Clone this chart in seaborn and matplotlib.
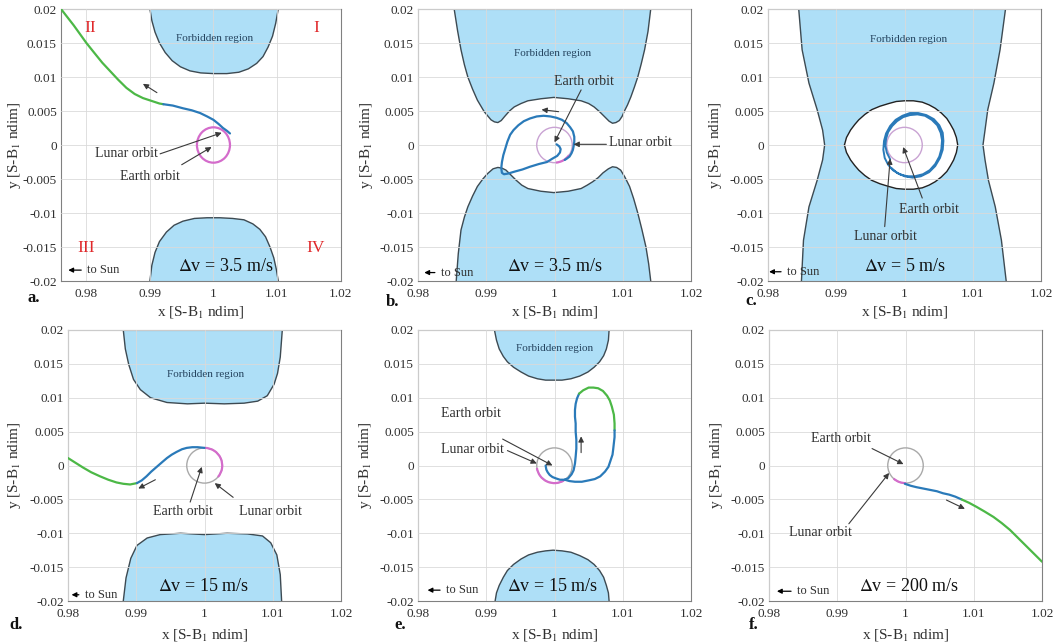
import matplotlib
matplotlib.use('Agg')
import matplotlib.pyplot as plt
from matplotlib.patches import Circle, Arc
import seaborn as sns

# ---- axes / ticks ----
XTICKS = [0.98, 0.99, 1.0, 1.01, 1.02]
XTICK_LABELS = ['0.98', '0.99', '1', '1.01', '1.02']
YTICKS = [-0.02, -0.015, -0.01, -0.005, 0.0, 0.005, 0.01, 0.015, 0.02]
YTICK_LABELS = ['-0.02', '-0.015', '-0.01', '-0.005', '0', '0.005', '0.01', '0.015', '0.02']
LUNAR_R = 0.0026

# ---- panel a (dv = 3.5 m/s) ----
A_TOP_X = [0.9900, 0.9903, 0.9908, 0.9915, 0.9924, 0.9935, 0.9948, 0.9963, 0.9980, 1.0000, 1.0021,
           1.0040, 1.0055, 1.0068, 1.0078, 1.0086, 1.0093, 1.0098, 1.0102]
A_TOP_Y = [0.0200, 0.0183, 0.0166, 0.0150, 0.0136, 0.0124, 0.0115, 0.0109, 0.0106, 0.0105, 0.0105,
           0.0107, 0.0112, 0.0120, 0.0130, 0.0144, 0.0160, 0.0179, 0.0200]
A_BOT_X = [0.9900, 0.9903, 0.9908, 0.9915, 0.9926, 0.9938, 0.9952, 0.9970, 0.9990, 1.0010, 1.0030,
           1.0048, 1.0062, 1.0073, 1.0082, 1.0089, 1.0095, 1.0099, 1.0102]
A_BOT_Y = [-0.0200, -0.0177, -0.0158, -0.0142, -0.0128, -0.0118, -0.0112, -0.0108, -0.0107, -0.0107, -0.0108,
           -0.0110, -0.0116, -0.0124, -0.0135, -0.0150, -0.0166, -0.0183, -0.0200]
A_GREEN_X = [0.9760, 0.9770, 0.9780, 0.9790, 0.9800, 0.9812, 0.9825, 0.9838, 0.9850, 0.9863, 0.9876,
             0.9889, 0.9902, 0.9915, 0.9921]
A_GREEN_Y = [0.0200, 0.0188, 0.0176, 0.0163, 0.0150, 0.0136, 0.0121, 0.0108, 0.0096, 0.0084, 0.0075,
             0.0069, 0.0065, 0.0061, 0.0060]
A_BLUE_X = [0.9921, 0.9936, 0.9952, 0.9966, 0.9979, 0.9990, 1.0000, 1.0008, 1.0015, 1.0021, 1.0026]
A_BLUE_Y = [0.0060, 0.0058, 0.0054, 0.0051, 0.0047, 0.0042, 0.0037, 0.0031, 0.0025, 0.0021, 0.0017]

# ---- panel b (dv = 3.5 m/s) ----
B_TOP_X = [0.9853, 0.9858, 0.9863, 0.9868, 0.9873, 0.9880, 0.9887, 0.9897, 0.9907, 0.9912, 0.9917, 0.9922,
           0.9927, 0.9934, 0.9941, 0.9951, 0.9961, 0.9980, 0.9999, 1.0020, 1.0039, 1.0050, 1.0058, 1.0066,
           1.0073, 1.0080, 1.0085, 1.0090, 1.0095, 1.0099, 1.0102, 1.0107, 1.0112, 1.0117, 1.0122, 1.0127,
           1.0132, 1.0137, 1.0141]
B_TOP_Y = [0.0200, 0.0168, 0.0140, 0.0118, 0.0100, 0.0082, 0.0066, 0.0049, 0.0037, 0.0034, 0.0033, 0.0036,
           0.0042, 0.0050, 0.0056, 0.0061, 0.0065, 0.0068, 0.0070, 0.0068, 0.0065, 0.0061, 0.0056, 0.0049,
           0.0042, 0.0035, 0.0032, 0.0033, 0.0036, 0.0042, 0.0049, 0.0059, 0.0071, 0.0085, 0.0100, 0.0119,
           0.0140, 0.0167, 0.0200]
B_BOT_X = [0.9856, 0.9859, 0.9863, 0.9868, 0.9873, 0.9880, 0.9887, 0.9895, 0.9902, 0.9910, 0.9917, 0.9923,
           0.9929, 0.9936, 0.9944, 0.9952, 0.9961, 0.9980, 0.9999, 1.0020, 1.0039, 1.0048, 1.0056, 1.0064,
           1.0071, 1.0079, 1.0085, 1.0091, 1.0097, 1.0103, 1.0110, 1.0116, 1.0122, 1.0128, 1.0134, 1.0138,
           1.0141]
B_BOT_Y = [-0.0200, -0.0160, -0.0125, -0.0106, -0.0091, -0.0075, -0.0061, -0.0050, -0.0042, -0.0035, -0.0033,
           -0.0034, -0.0037, -0.0044, -0.0052, -0.0059, -0.0064, -0.0068, -0.0070, -0.0068, -0.0064, -0.0059,
           -0.0054, -0.0048, -0.0041, -0.0035, -0.0032, -0.0033, -0.0037, -0.0047, -0.0061, -0.0079, -0.0100,
           -0.0124, -0.0150, -0.0175, -0.0200]
B_BLUE_X = [1.0003, 1.0007, 1.0009, 1.0008, 1.0004, 0.9997, 0.9989, 0.9977, 0.9964, 0.9953, 0.9942, 0.9932,
            0.9926, 0.9923, 0.9922, 0.9923, 0.9925, 0.9928, 0.9931, 0.9935, 0.9940, 0.9947, 0.9955, 0.9964,
            0.9974, 0.9984, 0.9994, 1.0003, 1.0011, 1.0018, 1.0023, 1.0027, 1.0029, 1.0029, 1.0028, 1.0027,
            1.0025, 1.0022, 1.0018, 1.0015]
B_BLUE_Y = [0.0001, -0.0002, -0.0006, -0.0011, -0.0016, -0.0020, -0.0025, -0.0028, -0.0032, -0.0036, -0.0039,
            -0.0042, -0.0043, -0.0041, -0.0034, -0.0025, -0.0015, -0.0005, 0.0005, 0.0015, 0.0022, 0.0029,
            0.0035, 0.0039, 0.0042, 0.0043, 0.0042, 0.0040, 0.0037, 0.0032, 0.0026, 0.0020, 0.0012, 0.0005,
            -0.0002, -0.0007, -0.0012, -0.0017, -0.0020, -0.0022]

# ---- panel c (dv = 5 m/s) ----
C_LEFT_X = [0.9845, 0.9850, 0.9860, 0.9872, 0.9880, 0.9883, 0.9880, 0.9872, 0.9860, 0.9852, 0.9849]
C_LEFT_Y = [0.0200, 0.0140, 0.0091, 0.0052, 0.0022, 0.0000, -0.0022, -0.0052, -0.0091, -0.0140, -0.0200]
C_RIGHT_X = [1.0148, 1.0140, 1.0131, 1.0122, 1.0118, 1.0115, 1.0118, 1.0123, 1.0133, 1.0142, 1.0149]
C_RIGHT_Y = [0.0200, 0.0140, 0.0091, 0.0052, 0.0022, 0.0000, -0.0022, -0.0052, -0.0091, -0.0140, -0.0200]
C_OVAL_X = [0.9912, 0.9915, 0.9921, 0.9927, 0.9933, 0.9942, 0.9952, 0.9964, 0.9977, 0.9988, 1.0000, 1.0013,
            1.0026, 1.0036, 1.0045, 1.0054, 1.0062, 1.0067, 1.0072, 1.0076, 1.0078,
            1.0076, 1.0072, 1.0067, 1.0062, 1.0054, 1.0045, 1.0036, 1.0026, 1.0013, 1.0000, 0.9988,
            0.9977, 0.9964, 0.9952, 0.9942, 0.9933, 0.9927, 0.9921, 0.9915, 0.9912]
C_OVAL_Y = [0.0000, 0.0011, 0.0022, 0.0030, 0.0037, 0.0045, 0.0052, 0.0057, 0.0061, 0.0064, 0.0065, 0.0065,
            0.0063, 0.0059, 0.0054, 0.0047, 0.0039, 0.0031, 0.0022, 0.0011, 0.0000,
            -0.0011, -0.0022, -0.0031, -0.0039, -0.0047, -0.0054, -0.0059, -0.0063, -0.0065, -0.0065, -0.0064,
            -0.0061, -0.0057, -0.0052, -0.0045, -0.0037, -0.0030, -0.0022, -0.0011, 0.0000]
C_BLUE_X = [0.9979, 0.9974, 0.9972, 0.9973, 0.9976, 0.9982, 0.9989, 0.9998, 1.0008, 1.0019, 1.0030, 1.0040,
            1.0048, 1.0053, 1.0055, 1.0054, 1.0051, 1.0045, 1.0037, 1.0027, 1.0015, 1.0004, 0.9993, 0.9983,
            0.9976, 0.9971, 0.9969, 0.9970, 0.9973, 0.9979, 0.9987, 0.9997, 1.0008, 1.0020, 1.0032, 1.0043,
            1.0051, 1.0056, 1.0057, 1.0056, 1.0052, 1.0045, 1.0036, 1.0024, 1.0012, 1.0000, 0.9989, 0.9981]
C_BLUE_Y = [-0.0021, -0.0011, -0.0001, 0.0009, 0.0019, 0.0028, 0.0035, 0.0041, 0.0044, 0.0045, 0.0043, 0.0037,
            0.0029, 0.0018, 0.0007, -0.0006, -0.0017, -0.0028, -0.0037, -0.0043, -0.0046, -0.0046, -0.0043,
            -0.0037, -0.0029, -0.0019, -0.0007, 0.0006, 0.0017, 0.0028, 0.0037, 0.0043, 0.0047, 0.0047,
            0.0044, 0.0038, 0.0029, 0.0018, 0.0006, -0.0007, -0.0019, -0.0031, -0.0040, -0.0046, -0.0048,
            -0.0046, -0.0041, -0.0034]

# ---- panel d (dv = 15 m/s) ----
D_TOP_X = [0.9881, 0.9884, 0.9889, 0.9896, 0.9906, 0.9921, 0.9945, 0.9975, 1.0000, 1.0029, 1.0058, 1.0078,
           1.0092, 1.0102, 1.0107, 1.0111, 1.0114]
D_TOP_Y = [0.0200, 0.0172, 0.0149, 0.0127, 0.0112, 0.0100, 0.0093, 0.0091, 0.0092, 0.0091, 0.0092, 0.0095,
           0.0103, 0.0120, 0.0136, 0.0160, 0.0200]
D_BOT_X = [0.9881, 0.9885, 0.9892, 0.9901, 0.9916, 0.9935, 0.9965, 1.0000, 1.0033, 1.0063, 1.0085, 1.0097,
           1.0106, 1.0111, 1.0113]
D_BOT_Y = [-0.0200, -0.0166, -0.0137, -0.0118, -0.0107, -0.0102, -0.0100, -0.0102, -0.0100, -0.0101, -0.0104,
           -0.0114, -0.0132, -0.0161, -0.0200]
D_GREEN_X = [0.9800, 0.9811, 0.9822, 0.9834, 0.9847, 0.9859, 0.9871, 0.9881, 0.9891, 0.9901]
D_GREEN_Y = [0.0011, 0.0004, -0.0003, -0.0010, -0.0016, -0.0021, -0.0025, -0.0027, -0.0028, -0.0026]
D_BLUE_X = [0.9901, 0.9908, 0.9915, 0.9922, 0.9930, 0.9938, 0.9945, 0.9952, 0.9959, 0.9967, 0.9974, 0.9982,
            0.9990, 1.0000]
D_BLUE_Y = [-0.0026, -0.0022, -0.0016, -0.0009, -0.0002, 0.0005, 0.0011, 0.0016, 0.0020, 0.0024, 0.0026,
            0.0027, 0.0027, 0.0026]

# ---- panel e (dv = 15 m/s) ----
E_TOP_X = [0.9912, 0.9915, 0.9919, 0.9925, 0.9931, 0.9940, 0.9951, 0.9962, 0.9975, 0.9987, 0.9998, 1.0011,
           1.0024, 1.0037, 1.0049, 1.0058, 1.0066, 1.0072, 1.0076, 1.0079, 1.0080]
E_TOP_Y = [0.0200, 0.0185, 0.0172, 0.0161, 0.0153, 0.0145, 0.0138, 0.0132, 0.0128, 0.0126, 0.0126, 0.0126,
           0.0128, 0.0132, 0.0138, 0.0145, 0.0153, 0.0162, 0.0172, 0.0185, 0.0200]
E_BOT_X = [0.9913, 0.9915, 0.9919, 0.9925, 0.9931, 0.9940, 0.9951, 0.9962, 0.9975, 0.9987, 0.9998, 1.0011,
           1.0024, 1.0037, 1.0049, 1.0058, 1.0066, 1.0072, 1.0076, 1.0079, 1.0080]
E_BOT_Y = [-0.0200, -0.0188, -0.0177, -0.0165, -0.0155, -0.0146, -0.0138, -0.0132, -0.0128, -0.0126, -0.0125,
           -0.0126, -0.0128, -0.0133, -0.0139, -0.0146, -0.0155, -0.0165, -0.0177, -0.0188, -0.0200]
E_BLUE1_X = [0.9987, 0.9988, 0.9990, 0.9993, 0.9997, 1.0002, 1.0008, 1.0014, 1.0020, 1.0025, 1.0028, 1.0030,
             1.0031, 1.0032, 1.0032, 1.0031, 1.0031, 1.0030, 1.0030, 1.0031, 1.0033, 1.0036]
E_BLUE1_Y = [0.0000, -0.0006, -0.0010, -0.0014, -0.0017, -0.0019, -0.0021, -0.0021, -0.0019, -0.0013, -0.0007,
             0.0003, 0.0013, 0.0025, 0.0038, 0.0050, 0.0062, 0.0072, 0.0082, 0.0091, 0.0099, 0.0106]
E_GREEN_X = [1.0036, 1.0042, 1.0050, 1.0057, 1.0064, 1.0071, 1.0077, 1.0081, 1.0084, 1.0087, 1.0088, 1.0088]
E_GREEN_Y = [0.0106, 0.0111, 0.0115, 0.0115, 0.0114, 0.0110, 0.0103, 0.0096, 0.0087, 0.0075, 0.0062, 0.0052]
E_BLUE2_X = [1.0088, 1.0088, 1.0087, 1.0086, 1.0085, 1.0082, 1.0079, 1.0074, 1.0067, 1.0059, 1.0050, 1.0040,
             1.0030, 1.0022, 1.0015]
E_BLUE2_Y = [0.0052, 0.0042, 0.0033, 0.0024, 0.0016, 0.0007, -0.0002, -0.0009, -0.0016, -0.0020, -0.0022,
             -0.0024, -0.0024, -0.0023, -0.0021]

# ---- panel f (dv = 200 m/s) ----
F_BLUE_X = [0.9999, 1.0008, 1.0016, 1.0026, 1.0036, 1.0046, 1.0055, 1.0064, 1.0073, 1.0082]
F_BLUE_Y = [-0.0027, -0.0030, -0.0032, -0.0034, -0.0036, -0.0038, -0.0041, -0.0043, -0.0046, -0.0050]
F_GREEN_X = [1.0082, 1.0093, 1.0104, 1.0116, 1.0129, 1.0141, 1.0153, 1.0165, 1.0178, 1.0189, 1.0200]
F_GREEN_Y = [-0.0050, -0.0055, -0.0061, -0.0068, -0.0076, -0.0085, -0.0095, -0.0107, -0.0120, -0.0131, -0.0142]

# ---- colours ----
FILL = '#aedff7'
EDGE = '#3d4a52'
BLUE = '#2a7ab9'
GREEN = '#4cb846'
MAGENTA = '#d46ccb'
LIGHT_MAG = '#c9a3d3'
ORBIT = '#a9a9a9'
ARROW = '#3a3a3a'

sns.set_theme(style='whitegrid')
plt.rcParams['font.family'] = ['Liberation Serif', 'DejaVu Serif']
plt.rcParams['mathtext.fontset'] = 'stix'


def setup(ax, ylab_x, xlab_y, xmin=0.98):
    ax.set_xlim(xmin, 1.02)
    ax.set_ylim(-0.02, 0.02)
    ax.set_xticks(XTICKS)
    ax.set_xticklabels(XTICK_LABELS)
    ax.set_yticks(YTICKS)
    ax.set_yticklabels(YTICK_LABELS)
    ax.set_facecolor('white')
    ax.grid(True, color='#dadada', lw=0.6)
    ax.set_axisbelow(False)
    for s in ax.spines.values():
        s.set_color('#808080')
        s.set_linewidth(0.8)
    ax.tick_params(labelsize=9.5, colors='#303030', length=0)
    ax.tick_params(axis='x', pad=5)
    ax.tick_params(axis='y', pad=3)
    ax.set_xlabel('x [S-B$_1$ ndim]', fontsize=11, color='#303030')
    ax.set_ylabel('y [S-B$_1$ ndim]', fontsize=11, color='#303030')
    ax.yaxis.set_label_coords(ylab_x, 0.5)
    ax.xaxis.set_label_coords(0.5, xlab_y)


def forbidden(ax, xs, ys):
    ax.fill(xs, ys, color=FILL, lw=0, zorder=1)
    ax.plot(xs, ys, color=EDGE, lw=1.0, zorder=1.6)


def traj(ax, xs, ys, color, lw=1.6):
    sns.lineplot(x=xs, y=ys, sort=False, estimator=None, color=color, lw=lw, ax=ax, zorder=4)


def moon(ax, color=ORBIT, arc=None, lw=1.0):
    ax.add_patch(Circle((1.0, 0.0), LUNAR_R, fill=False, ec=color, lw=lw, zorder=3))
    if arc is not None:
        ax.add_patch(Arc((1.0, 0.0), 2 * LUNAR_R, 2 * LUNAR_R, theta1=arc[0], theta2=arc[1],
                         color=MAGENTA, lw=1.6, zorder=3.5))


def pointer(ax, tail, tip, lw=0.8, ms=8):
    ax.annotate('', xy=tip, xytext=tail,
                arrowprops=dict(arrowstyle='-|>', color=ARROW, lw=lw, mutation_scale=ms,
                                shrinkA=0, shrinkB=0), zorder=5)


def label(ax, xy, s, **kw):
    ax.text(xy[0], xy[1], s, ha='center', va='center', fontsize=10, color='#303030', zorder=6, **kw)


def region_text(ax, xy):
    ax.text(xy[0], xy[1], 'Forbidden region', ha='center', va='center', fontsize=8,
            color='#24435e', zorder=6)


def dv_text(ax, xy, s):
    ax.text(xy[0], xy[1], s, ha='center', va='center', fontsize=13, color='#111111', zorder=6)


def to_sun(ax, tip, text_x, y):
    ax.annotate('to Sun', xy=(tip, y), xycoords='axes fraction', xytext=(text_x, y),
                textcoords='axes fraction', ha='left', va='center', fontsize=9, color='#303030',
                arrowprops=dict(arrowstyle='-|>', color='black', lw=0.9, mutation_scale=7,
                                shrinkA=2, shrinkB=0), zorder=6)


W, H = 1054, 644
fig = plt.figure(figsize=(W / 100, H / 100), dpi=100)


def px_axes(left, top, right, bottom):
    return fig.add_axes([left / W, 1 - bottom / H, (right - left) / W, (bottom - top) / H])


ax_a = px_axes(61, 9, 340.5, 281)
ax_b = px_axes(418, 9, 691, 281)
ax_c = px_axes(768, 9, 1041, 281)
ax_d = px_axes(68, 330, 341, 601)
ax_e = px_axes(418, 330, 691, 601)
ax_f = px_axes(769, 330, 1042, 601)

# --- a ---
ax = ax_a
setup(ax, -0.136, -0.085, xmin=0.976)
forbidden(ax, A_TOP_X, A_TOP_Y)
forbidden(ax, A_BOT_X, A_BOT_Y)
moon(ax, color=MAGENTA, lw=1.6)
traj(ax, A_GREEN_X, A_GREEN_Y, GREEN)
traj(ax, A_BLUE_X, A_BLUE_Y, BLUE)
pointer(ax, (0.9911, 0.0077), (0.9889, 0.0090))
label(ax, (0.9863, -0.0013), 'Lunar orbit')
pointer(ax, (0.9916, -0.0013), (1.0013, 0.0018))
label(ax, (0.9900, -0.0047), 'Earth orbit')
pointer(ax, (0.9950, -0.0029), (0.9997, -0.0003))
region_text(ax, (1.0002, 0.0157))
dv_text(ax, (1.0020, -0.0179), r'$\Delta$v = 3.5 m/s')
for s, x, y in [('II', 0.9806, 0.0172), ('I', 1.0162, 0.0172), ('III', 0.9800, -0.0152), ('IV', 1.0160, -0.0152)]:
    ax.text(x, y, s, ha='center', va='center', fontsize=12.5, color='#e0282a', zorder=6)
to_sun(ax, 0.026, 0.094, 0.040)

# --- b ---
ax = ax_b
setup(ax, -0.158, -0.085)
forbidden(ax, B_TOP_X, B_TOP_Y)
forbidden(ax, B_BOT_X, B_BOT_Y)
moon(ax, color=LIGHT_MAG, arc=(-85, -35))
traj(ax, B_BLUE_X, B_BLUE_Y, BLUE)
pointer(ax, (1.0006, 0.0049), (0.9981, 0.0052))
label(ax, (1.0043, 0.0093), 'Earth orbit')
pointer(ax, (1.0039, 0.0081), (1.0000, 0.0004))
ax.text(1.0080, 0.0003, 'Lunar orbit', ha='left', va='center', fontsize=10, color='#303030', zorder=6)
pointer(ax, (1.0076, 0.0001), (1.0028, 0.0001))
region_text(ax, (0.9997, 0.0135))
dv_text(ax, (1.0000, -0.0179), r'$\Delta$v = 3.5 m/s')
to_sun(ax, 0.023, 0.084, 0.031)

# --- c ---
ax = ax_c
setup(ax, -0.16, -0.085)
ax.fill(C_LEFT_X + C_RIGHT_X[::-1], C_LEFT_Y + C_RIGHT_Y[::-1], color=FILL, lw=0, zorder=1)
ax.plot(C_LEFT_X, C_LEFT_Y, color=EDGE, lw=1.0, zorder=1.6)
ax.plot(C_RIGHT_X, C_RIGHT_Y, color=EDGE, lw=1.0, zorder=1.6)
ax.fill(C_OVAL_X, C_OVAL_Y, color='white', lw=0, zorder=1.2)
ax.plot(C_OVAL_X, C_OVAL_Y, color='#222222', lw=1.0, zorder=1.6)
moon(ax, color=LIGHT_MAG)
traj(ax, C_BLUE_X, C_BLUE_Y, BLUE, lw=1.4)
label(ax, (1.0036, -0.0095), 'Earth orbit')
pointer(ax, (1.0026, -0.0078), (0.9998, -0.0003))
label(ax, (0.9972, -0.0135), 'Lunar orbit')
pointer(ax, (0.9971, -0.0120), (0.9979, -0.0020))
region_text(ax, (1.0006, 0.0155))
dv_text(ax, (1.0001, -0.0179), r'$\Delta$v = 5 m/s')
to_sun(ax, 0.004, 0.07, 0.034)

# --- d ---
ax = ax_d
setup(ax, -0.165, -0.096)
forbidden(ax, D_TOP_X, D_TOP_Y)
forbidden(ax, D_BOT_X, D_BOT_Y)
moon(ax, arc=(-41, 90))
traj(ax, D_GREEN_X, D_GREEN_Y, GREEN)
traj(ax, D_BLUE_X, D_BLUE_Y, BLUE)
pointer(ax, (0.9928, -0.0021), (0.9903, -0.0034))
label(ax, (0.9969, -0.0068), 'Earth orbit')
pointer(ax, (0.9979, -0.0054), (0.9996, -0.0002))
label(ax, (1.0096, -0.0068), 'Lunar orbit')
pointer(ax, (1.0042, -0.0047), (1.0015, -0.0026))
region_text(ax, (1.0001, 0.0134))
dv_text(ax, (0.9998, -0.0179), r'$\Delta$v = 15 m/s')
to_sun(ax, 0.013, 0.062, 0.023)

# --- e ---
ax = ax_e
setup(ax, -0.16, -0.096)
forbidden(ax, E_TOP_X, E_TOP_Y)
forbidden(ax, E_BOT_X, E_BOT_Y)
moon(ax, arc=(188, 302))
traj(ax, E_BLUE1_X, E_BLUE1_Y, BLUE)
traj(ax, E_GREEN_X, E_GREEN_Y, GREEN)
traj(ax, E_BLUE2_X, E_BLUE2_Y, BLUE)
pointer(ax, (1.0039, 0.0019), (1.0039, 0.0043))
label(ax, (0.9878, 0.0077), 'Earth orbit')
pointer(ax, (0.9924, 0.0039), (0.9997, 0.0000))
label(ax, (0.9880, 0.0023), 'Lunar orbit')
pointer(ax, (0.9931, 0.0022), (0.9974, 0.0003))
region_text(ax, (1.0000, 0.0172))
dv_text(ax, (0.9997, -0.0179), r'$\Delta$v = 15 m/s')
to_sun(ax, 0.035, 0.103, 0.040)

# --- f ---
ax = ax_f
setup(ax, -0.16, -0.096)
moon(ax, arc=(228, 272))
traj(ax, F_BLUE_X, F_BLUE_Y, BLUE)
traj(ax, F_GREEN_X, F_GREEN_Y, GREEN)
pointer(ax, (1.0060, -0.0051), (1.0087, -0.0064))
label(ax, (0.9905, 0.0040), 'Earth orbit')
pointer(ax, (0.9951, 0.0025), (0.9997, 0.0002))
label(ax, (0.9875, -0.0099), 'Lunar orbit')
pointer(ax, (0.9917, -0.0086), (0.9976, -0.0011))
dv_text(ax, (1.0005, -0.0179), r'$\Delta$v = 200 m/s')
to_sun(ax, 0.029, 0.103, 0.036)

# panel letters
for s, x, y in [('a.', 27, 298), ('b.', 386, 302), ('c.', 745, 301),
                ('d.', 9, 625), ('e.', 394, 625), ('f.', 749, 625)]:
    fig.text(x / W, 1 - y / H, s, ha='left', va='center', fontsize=12, fontweight='bold', color='#111111')

fig.savefig('out.png', dpi=100)
